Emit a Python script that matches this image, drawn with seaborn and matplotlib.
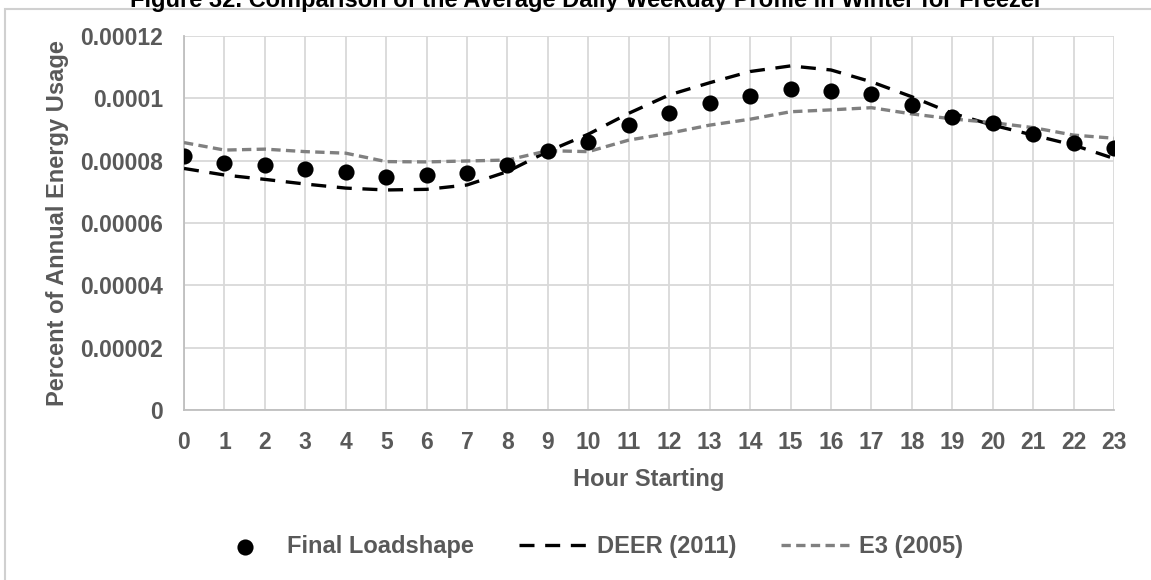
import numpy as np
import pandas as pd
import matplotlib
matplotlib.use("Agg")
import matplotlib.pyplot as plt
import matplotlib.patches as mpatches
import seaborn as sns

# data
hours = list(range(24))
final_loadshape = [0.0000815, 0.0000794, 0.0000785, 0.0000774, 0.0000765, 0.0000749,
                   0.0000753, 0.0000761, 0.0000786, 0.0000832, 0.0000861, 0.0000914,
                   0.0000952, 0.0000984, 0.0001009, 0.0001029, 0.0001025, 0.0001013,
                   0.0000979, 0.0000941, 0.0000920, 0.0000884, 0.0000856, 0.0000840]
deer_2011 = [0.0000775, 0.0000754, 0.0000740, 0.0000725, 0.0000712, 0.0000706,
             0.0000708, 0.0000722, 0.0000765, 0.0000830, 0.0000885, 0.0000952,
             0.0001011, 0.0001050, 0.0001086, 0.0001104, 0.0001091, 0.0001053,
             0.0001005, 0.0000952, 0.0000914, 0.0000882, 0.0000850, 0.0000807]
e3_2005 = [0.0000858, 0.0000834, 0.0000837, 0.0000829, 0.0000824, 0.0000797,
           0.0000796, 0.0000799, 0.0000802, 0.0000832, 0.0000829, 0.0000866,
           0.0000888, 0.0000914, 0.0000933, 0.0000957, 0.0000963, 0.0000970,
           0.0000950, 0.0000934, 0.0000922, 0.0000906, 0.0000882, 0.0000872]
y_ticks = [0, 0.00002, 0.00004, 0.00006, 0.00008, 0.0001, 0.00012]
y_tick_labels = ["0", "0.00002", "0.00004", "0.00006", "0.00008", "0.0001", "0.00012"]

title = "Figure 32. Comparison of the Average Daily Weekday Profile in Winter for Freezer"

df = pd.DataFrame({"hour": hours, "final": final_loadshape,
                   "deer": deer_2011, "e3": e3_2005})

sns.set_theme(style="white")
plt.rcParams["font.family"] = ["Liberation Sans", "DejaVu Sans"]
plt.rcParams["font.weight"] = "bold"

W, H = 1151, 580
fig = plt.figure(figsize=(W / 100, H / 100), dpi=100)
fig.patch.set_facecolor("white")
ax = fig.add_axes([184 / W, 1 - 410 / H, (1114 - 184) / W, (410 - 36) / H])

grey_txt = "#595959"

sns.lineplot(data=df, x="hour", y="deer", ax=ax, color="black", lw=2.4,
             label="DEER (2011)", zorder=3)
ax.lines[-1].set_dashes([4.5, 3.2])
sns.lineplot(data=df, x="hour", y="e3", ax=ax, color="#808080", lw=2.4,
             label="E3 (2005)", zorder=3)
ax.lines[-1].set_dashes([2.8, 1.6])
sns.scatterplot(data=df, x="hour", y="final", ax=ax, color="black", s=135,
                edgecolor="black", linewidth=0, label="Final Loadshape", zorder=4)

ax.set_xlim(0, 23)
ax.set_ylim(0, 0.00012)
ax.set_xticks(hours)
ax.set_xticklabels([str(h) for h in hours])
ax.set_yticks(y_ticks)
ax.set_yticklabels(y_tick_labels)
ax.tick_params(axis="x", length=0, pad=15, labelsize=16.5, labelcolor=grey_txt)
ax.tick_params(axis="y", length=0, pad=15, labelsize=16.5, labelcolor=grey_txt)
for lab in ax.get_xticklabels() + ax.get_yticklabels():
    lab.set_fontweight("bold")

ax.grid(True, color="#d9d9d9", lw=1.3)
ax.set_axisbelow(True)
for side in ["top", "right"]:
    ax.spines[side].set_visible(False)
for side in ["left", "bottom"]:
    ax.spines[side].set_color("#bfbfbf")
    ax.spines[side].set_linewidth(1.3)

ax.set_xlabel("Hour Starting", fontsize=17, fontweight="bold", color=grey_txt, labelpad=10)
ax.set_ylabel("Percent of Annual Energy Usage", fontsize=17, fontweight="bold",
              color=grey_txt, labelpad=8)

# legend at the bottom, order: dots, DEER, E3
handles, labels = ax.get_legend_handles_labels()
order = [labels.index("Final Loadshape"), labels.index("DEER (2011)"), labels.index("E3 (2005)")]
ax.legend([handles[i] for i in order], [labels[i] for i in order],
          loc="center", bbox_to_anchor=(586 / W, 1 - 547 / H),
          bbox_transform=fig.transFigure, ncol=3, frameon=False,
          prop={"size": 17, "weight": "bold"}, labelcolor=grey_txt,
          handlelength=3.0, handletextpad=0.3, columnspacing=1.9)

# outer chart border (cut by the image edges)
border = mpatches.Rectangle((5 / W, -0.2), 2.0, 1.2 - 9 / H, transform=fig.transFigure,
                            fill=False, edgecolor="#d0d0d0", lw=1.5, clip_on=False)
fig.patches.append(border)

# title, only lower half visible as in the source page
fig.text(587 / W, 1 - 7 / H, title, ha="center", va="baseline",
         fontsize=17, fontweight="bold", color="black")

fig.savefig("out.png", dpi=100, facecolor="white")
